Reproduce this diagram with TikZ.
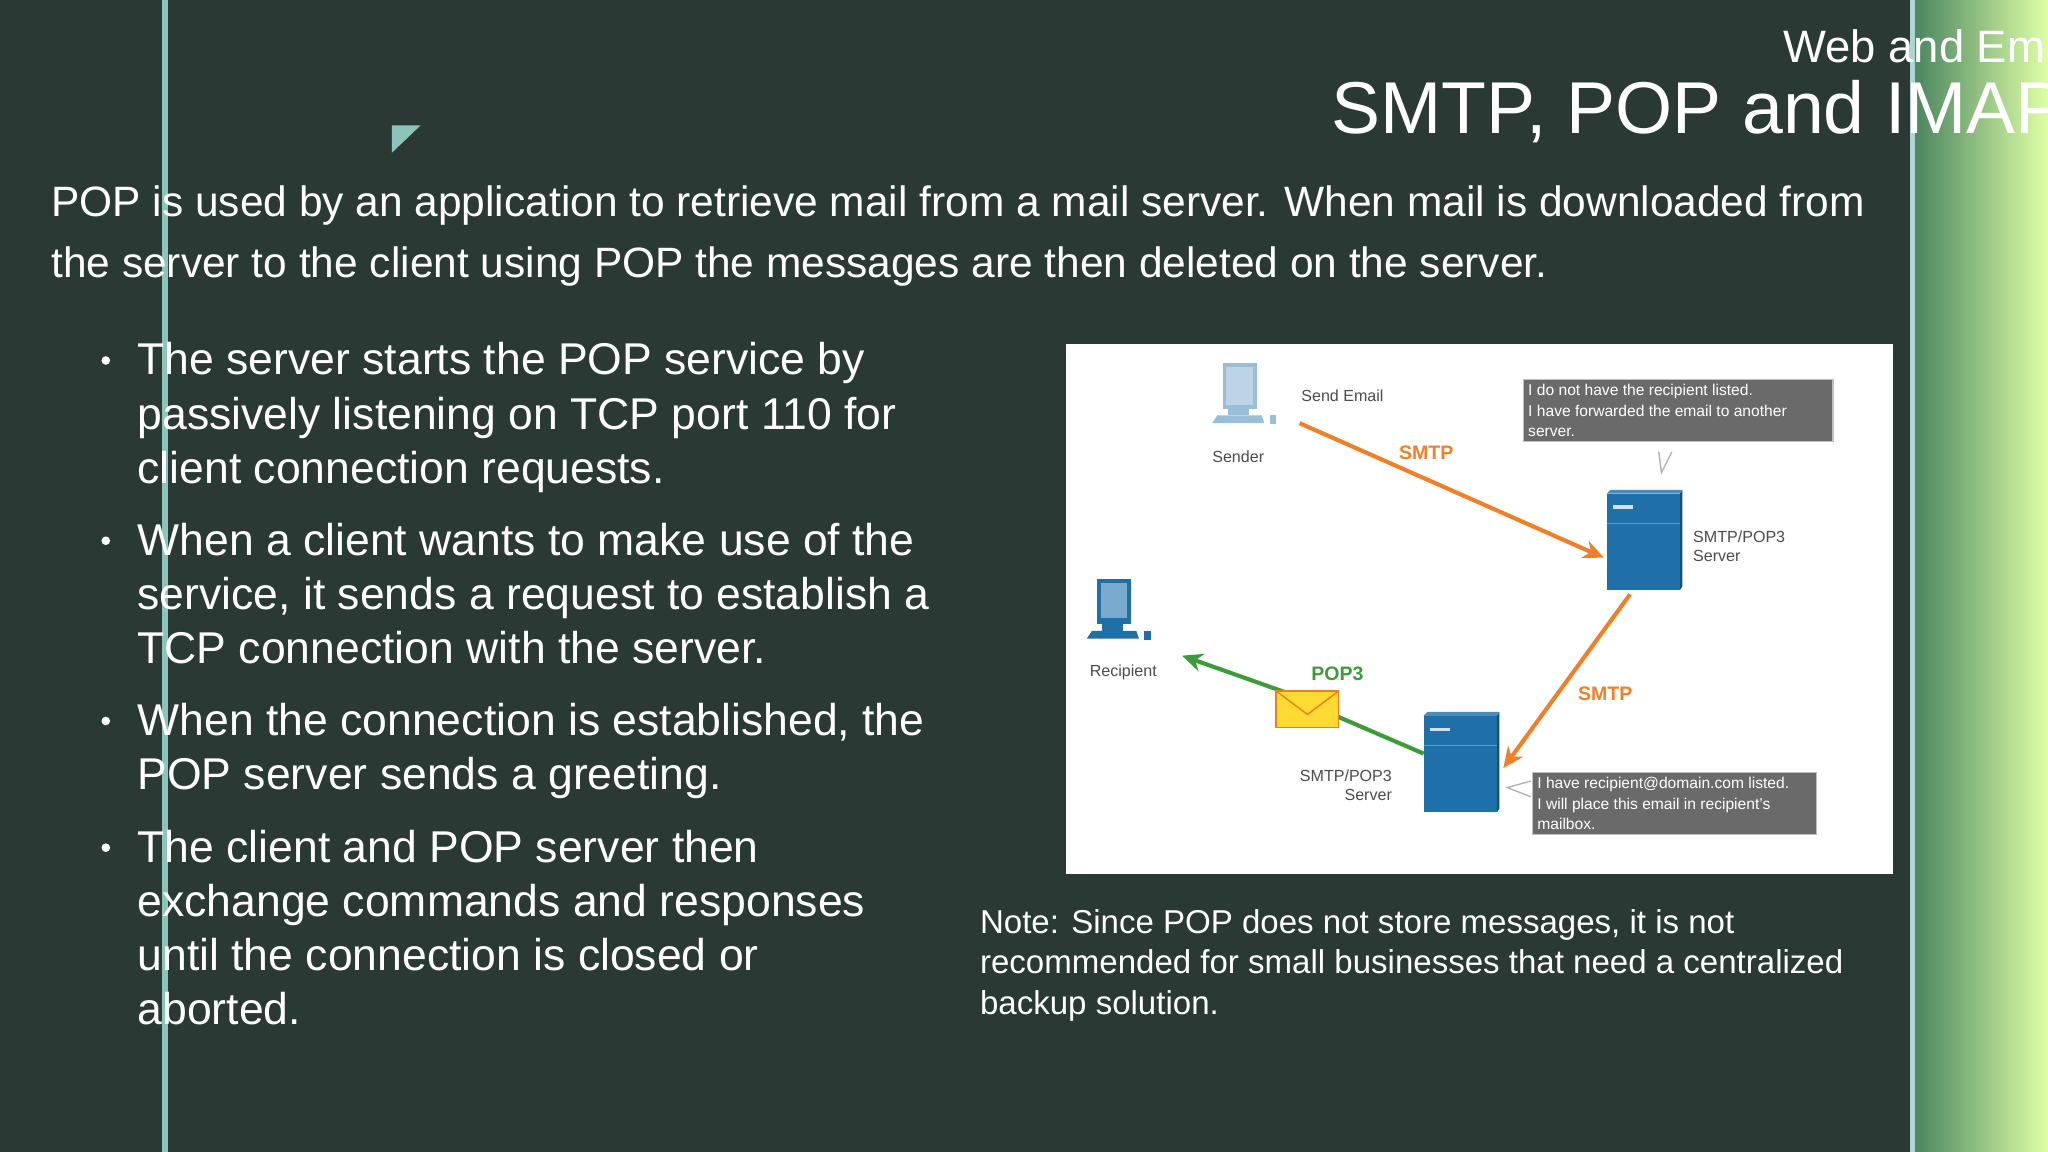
\documentclass[tikz,border=0pt]{standalone}
\usepackage{fontspec}
\setmainfont{Liberation Sans}
\usetikzlibrary{arrows.meta,shadings}
\definecolor{bg}{HTML}{2A3934}
\definecolor{teal}{HTML}{8CC3BA}
\definecolor{org}{HTML}{F07F2A}
\definecolor{grn}{HTML}{3E9B3A}
\definecolor{srv}{HTML}{1F6FA8}
\definecolor{callg}{HTML}{6A6A6A}
\tikzset{
 body/.style={text=white,anchor=north west,align=left,font=\fontsize{19.4}{23.6}\selectfont,inner sep=0},
 small/.style={text=black!70,font=\fontsize{7}{8.5}\selectfont,inner sep=0},
 call/.style={fill=callg,draw=black!25,line width=0.6pt,text=white,font=\fontsize{6.8}{9}\selectfont,align=left,anchor=north west,inner sep=2pt},
 proto/.style={font=\bfseries\fontsize{8.5}{10}\selectfont,inner sep=0},
 arr/.style={line width=1.8pt,-{Stealth[length=9pt,width=8pt]}},
}
\begin{document}
\begin{tikzpicture}[x=0.02cm,y=-0.02cm]
\useasboundingbox (0,0) rectangle (1568,882);
\fill[bg] (0,0) rectangle (1568,882);
\shade[left color=green!25!teal!50!bg,right color=green!35!yellow!35!white] (1465,0) rectangle (1568,882);
\fill[teal!70] (1462,0) rectangle (1466,882);
\fill[teal] (124,0) rectangle (129,882);
\fill[teal] (300,96) -- (322,96) -- (300,117) -- cycle;
\begin{scope}
\clip (0,0) rectangle (1568,882);
\node[text=white,anchor=north west,font=\fontsize{19.8}{22}\selectfont,inner sep=0] (sub) at (1365,22) {Web and Email};
\node[text=white,anchor=north west,font=\fontsize{32}{38}\selectfont,inner sep=0] (title) at (1019,61) {SMTP, POP and IMAP};
\end{scope}
\node[body,font=\fontsize{18.5}{26.6}\selectfont] (intro) at (39,142) {POP is used by an application to retrieve mail from a mail server. When mail is downloaded from\\the server to the client using POP the messages are then deleted on the server.};
\foreach \y/\t in {262/{The server starts the POP service by\\passively listening on TCP port 110 for\\client connection requests.},400/{When a client wants to make use of the\\service, it sends a request to establish a\\TCP connection with the server.},538/{When the connection is established, the\\POP server sends a greeting.},635/{The client and POP server then\\exchange commands and responses\\until the connection is closed or\\aborted.}}{
 \node[body] at (105,\y) {\t};
 \fill[white] (81,\y+14) circle (3.3);
}
\node[body,font=\fontsize{14.4}{17.6}\selectfont] (note) at (750,696) {Note: Since POP does not store messages, it is not\\recommended for small businesses that need a centralized\\backup solution.};
% diagram
\fill[white] (816,263) rectangle (1449,669);
% sender computer
\begin{scope}[shift={(958,310)}]
 \fill[srv!45] (-22,-32) rectangle (4,3); \fill[srv!30] (-19,-29) rectangle (1,0);
 \fill[srv!45] (-26,8) -- (8,8) -- (10,14) -- (-30,14) -- cycle; \fill[srv!45] (-18,3) rectangle (-2,8);
 \fill[srv!45] (14,8) rectangle (19,15);
\end{scope}
\node[small] (sender) at (948,350) {Sender};
\node[small,anchor=west] (send) at (996,303) {Send Email};
% recipient computer
\begin{scope}[shift={(862,475)}]
 \fill[srv] (-22,-32) rectangle (4,3); \fill[srv!60] (-19,-29) rectangle (1,-2);
 \fill[srv] (-26,8) -- (8,8) -- (10,14) -- (-30,14) -- cycle; \fill[srv] (-18,3) rectangle (-2,8);
 \fill[srv] (14,8) rectangle (19,15);
\end{scope}
\node[small] (recip) at (860,515) {Recipient};
% servers
\foreach \n/\x/\y in {s1/1230/375,s2/1090/545}{
 \fill[srv!70!black] (\x+56,\y+3) -- (\x+58,\y) -- (\x+58,\y+74) -- (\x+56,\y+77) -- cycle;
 \fill[srv] (\x,\y+3) rectangle (\x+56,\y+77);
 \fill[srv!80!white] (\x,\y+3) -- (\x+3,\y) -- (\x+58,\y) -- (\x+56,\y+3) -- cycle;
 \fill[white!80!srv] (\x+5,\y+12) rectangle (\x+20,\y+15);
 \draw[srv!70!white,line width=0.5pt] (\x,\y+26) -- (\x+56,\y+26);
 \coordinate (\n) at (\x+28,\y+40);
}
\node[small,anchor=north west,align=left] (l1) at (1296,406) {SMTP/POP3\\Server};
\node[small,anchor=north east,align=right] (l2) at (1066,589) {SMTP/POP3\\Server};
\node[call] (c1) at (1166,290) {\parbox{4.6cm}{I do not have the recipient listed.\\I have forwarded the email to another\\server.}};
\node[call] (c2) at (1173,591) {\parbox{4.2cm}{I have recipient@domain.com listed.\\I will place this email in recipient's\\mailbox.}};
\draw[black!30,line width=0.6pt] (1270,346) -- (1272,362) -- (1280,346);
\draw[black!30,line width=0.6pt] (1172,598) -- (1154,603) -- (1172,610);
% arrows
\coordinate (a1) at (995,324); \coordinate (a2) at (1228,427);
\draw[arr,org] (a1) -- (a2);
\coordinate (b1) at (1248,455); \coordinate (b2) at (1151,588);
\draw[arr,org] (b1) -- (b2);
\node[proto,text=org] (smtp1) at (1092,347) {SMTP};
\node[proto,text=org] (smtp2) at (1229,531) {SMTP};
\coordinate (g1) at (1090,577); \coordinate (g2) at (1018,546); \coordinate (g3) at (984,530); \coordinate (g4) at (905,502);
\draw[grn,line width=1.8pt] (g1) -- (g2);
\draw[arr,grn] (g3) -- (g4);
\node[proto,text=grn] (pop) at (1024,516) {POP3};
\begin{scope}[shift={(1001,543)}]
 \fill[yellow!70!orange!80] (-24,-14) rectangle (24,14);
 \draw[orange!70!brown,line width=0.6pt] (-24,-14) rectangle (24,14);
 \draw[orange!70!brown,line width=0.6pt] (-24,-14) -- (0,4) -- (24,-14);
\end{scope}
\end{tikzpicture}
\end{document}
